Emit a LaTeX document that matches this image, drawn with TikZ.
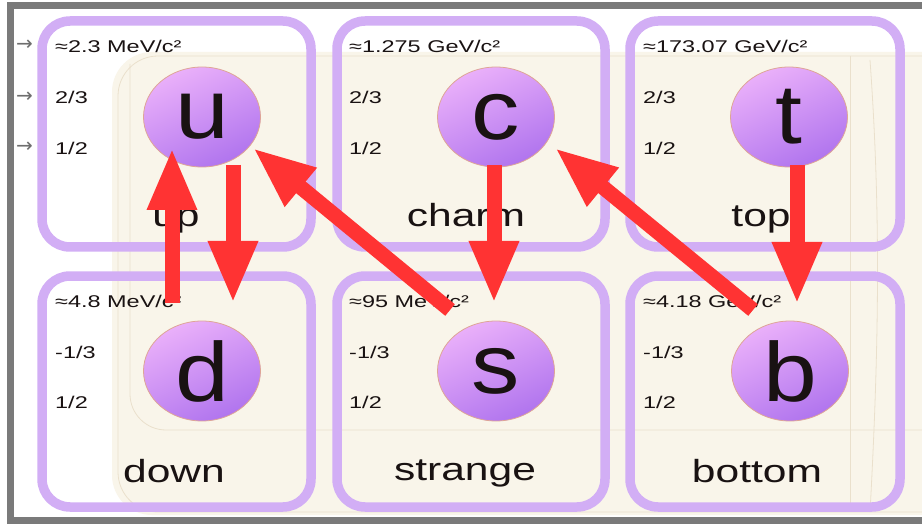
\documentclass[tikz,border=0pt]{standalone}
\usepackage{fontspec}
\setmainfont{Liberation Sans}
\newfontfamily\dejavu{DejaVu Sans}
\usetikzlibrary{arrows.meta,shapes.geometric,calc}
\definecolor{qred}{RGB}{255,51,51}
\definecolor{lav}{RGB}{210,174,245}
\definecolor{cream}{RGB}{249,245,234}
\definecolor{ghost}{RGB}{234,224,204}
\definecolor{ballhi}{RGB}{234,176,250}
\definecolor{balllo}{RGB}{176,116,238}
\definecolor{ballrim}{RGB}{222,165,150}
\definecolor{framegray}{RGB}{122,122,122}
\definecolor{markgray}{RGB}{110,110,110}
\definecolor{ink}{RGB}{25,18,18}
\newcommand{\lbl}[1]{\fontsize{17}{17}\selectfont\scalebox{1.38}[1]{#1}}
\newcommand{\nm}[1]{\fontsize{32}{32}\selectfont\scalebox{1.33}[1]{#1}}
\newcommand{\bigq}[1]{\fontsize{84}{84}\selectfont\scalebox{1.15}[1]{#1}}
\begin{document}
\begin{tikzpicture}[x=1pt,y=-1pt,
  cell/.style={draw=lav, line width=9.5pt, rounded corners=28pt},
  ball/.style={ellipse, minimum width=117pt, minimum height=100pt, inner sep=0pt,
    top color=ballhi, bottom color=balllo, shading angle=25, draw=ballrim, line width=0.8pt, text=ink},
  lab/.style={anchor=base west, inner sep=0pt, text=ink},
  qname/.style={anchor=base, inner sep=0pt, text=ink},
  sidemark/.style={anchor=west, inner sep=0pt, text=markgray, font=\dejavu\fontsize{20}{20}\selectfont},
  arr/.style={draw=qred, line width=15pt, -{Triangle[width=46pt,length=62pt]}}]
\useasboundingbox (0,0) rectangle (922,524);
\clip (0,0) rectangle (922,524);
% background
\fill[white] (0,0) rectangle (922,524);
\fill[cream, rounded corners=40pt] (112,52) rectangle (990,515);
\draw[ghost, line width=0.8pt, rounded corners=40pt] (118,56) rectangle (990,512);
\draw[ghost, line width=0.8pt, rounded corners=36pt] (130,64) -- (130,430) -- (990,430);
\draw[ghost, line width=0.8pt] (850,56) -- (850,512);
\draw[ghost, line width=0.8pt] (870,60) .. controls (880,200) and (880,330) .. (870,512);
% frame
\draw[framegray, line width=7pt] (960,5.5) -- (10.5,5.5) -- (10.5,520.5) -- (960,520.5);
% cells
\draw[cell] (42,21) rectangle (311,247);
\draw[cell] (337,21) rectangle (605,247);
\draw[cell] (630,21) rectangle (900,247);
\draw[cell] (42,276) rectangle (311,507);
\draw[cell] (337,276) rectangle (605,507);
\draw[cell] (630,276) rectangle (900,507);
% side marks
\node[sidemark] (m1) at (16,45) {→};
\node[sidemark] (m2) at (16,97) {→};
\node[sidemark] (m3) at (16,147) {→};
% labels row 1
\node[lab] (um) at (55,53) {\lbl{≈2.3 MeV/c²}};
\node[lab] (uq) at (55,104) {\lbl{2/3}};
\node[lab] (us) at (55,155) {\lbl{1/2}};
\node[lab] (cm) at (349,53) {\lbl{≈1.275 GeV/c²}};
\node[lab] (cq) at (349,104) {\lbl{2/3}};
\node[lab] (cs) at (349,155) {\lbl{1/2}};
\node[lab] (tm) at (643,53) {\lbl{≈173.07 GeV/c²}};
\node[lab] (tq) at (643,104) {\lbl{2/3}};
\node[lab] (ts) at (643,155) {\lbl{1/2}};
% labels row 2
\node[lab] (dm) at (55,307) {\lbl{≈4.8 MeV/c²}};
\node[lab] (dq) at (55,358) {\lbl{-1/3}};
\node[lab] (ds) at (55,408) {\lbl{1/2}};
\node[lab] (sm) at (349,307) {\lbl{≈95 MeV/c²}};
\node[lab] (sq) at (349,358) {\lbl{-1/3}};
\node[lab] (ss) at (349,408) {\lbl{1/2}};
\node[lab] (bm) at (643,307) {\lbl{≈4.18 GeV/c²}};
\node[lab] (bq) at (643,358) {\lbl{-1/3}};
\node[lab] (bs) at (643,408) {\lbl{1/2}};
% balls
\node[ball] (u) at (202,117) {\bigq{u}};
\node[ball] (c) at (496,117) {\bigq{c}};
\node[ball] (t) at (789,117) {\bigq{t}};
\node[ball] (d) at (202,371) {\bigq{d}};
\node[ball] (s) at (496,371) {\bigq{s}};
\node[ball] (b) at (790,371) {\bigq{b}};
% names
\node[qname] (nu) at (176,227) {\nm{up}};
\node[qname] (nc) at (466,227) {\nm{charm}};
\node[qname] (nt) at (761,227) {\nm{top}};
\node[qname] (nd) at (174,482) {\nm{down}};
\node[qname] (ns) at (465,480) {\nm{strange}};
\node[qname] (nb) at (757,482) {\nm{bottom}};
% arrow end points
\coordinate (a1s) at ($(d.center)+(-30,-68)$);
\coordinate (a1e) at ($(u.center)+(-30,31)$);
\coordinate (a2s) at ($(u.center)+(31,48)$);
\coordinate (a2e) at ($(d.center)+(31,-68)$);
\coordinate (a3s) at ($(s.center)+(-46,-61)$);
\coordinate (a3e) at ($(u.center)+(51,31)$);
\coordinate (a4s) at ($(c.center)+(-2,48)$);
\coordinate (a4e) at ($(s.center)+(-2,-68)$);
\coordinate (a5s) at ($(b.center)+(-37,-61)$);
\coordinate (a5e) at ($(c.center)+(59,31)$);
\coordinate (a6s) at ($(t.center)+(8,48)$);
\coordinate (a6e) at ($(b.center)+(7,-67)$);
% arrows
\draw[arr] (a1s) -- (a1e);
\draw[arr] (a2s) -- (a2e);
\draw[arr] (a3s) -- (a3e);
\draw[arr] (a4s) -- (a4e);
\draw[arr] (a5s) -- (a5e);
\draw[arr] (a6s) -- (a6e);
\end{tikzpicture}
\end{document}
